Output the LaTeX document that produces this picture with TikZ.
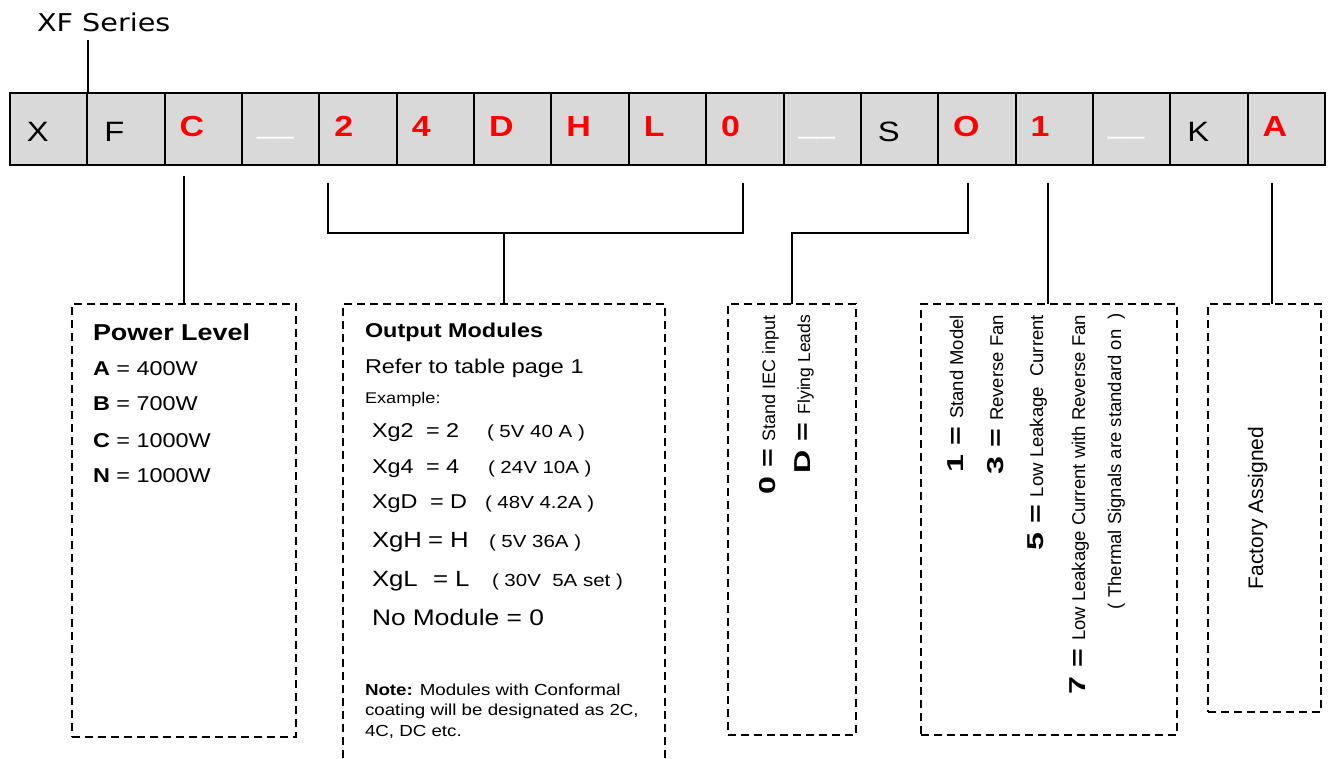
\documentclass[tikz,border=0pt]{standalone}
\usepackage{fontspec}
\setmainfont{Liberation Sans}
\newfontfamily\hf{Liberation Sans}[FakeStretch=1.17]
\newfontfamily\bw{Liberation Sans}[FakeStretch=1.4]
\newfontfamily\tf{DejaVu Sans}[FakeStretch=1.17]
\newcommand\fsz[1]{\fontsize{#1}{#1}\selectfont}
\newcommand\labf{\bw\bfseries\fsz{23}}
\definecolor{cellgray}{HTML}{D9D9D9}
\begin{document}
\begin{tikzpicture}[x=1pt,y=-1pt,
  every node/.style={inner sep=0pt,outer sep=0pt},
  cell/.style={draw=black,line width=2pt,fill=cellgray,minimum width=77.35pt,minimum height=72pt},
  conn/.style={line width=1.5pt,draw=black},
  dbox/.style={draw=black,line width=1.5pt,dash pattern=on 8pt off 5pt},
  blk/.style={anchor=base west,font=\hf\fsz{28}},
  rd/.style={anchor=base west,text=red,font=\hf\bfseries\fsz{29}},
  ul/.style={anchor=base west,text=white,font=\hf\fsz{28}},
  txt/.style={anchor=base west},
  vt/.style={rotate=90,anchor=base east}]
\useasboundingbox (0,0) rectangle (1328,758);
% title
\node[anchor=base west,font=\tf\fsz{24.5}] (title) at (37,31) {XF Series};
% cells
\foreach \i in {0,...,16} {
  \node[cell] (c\i) at ({10+77.35*\i+38.675},128.5) {};
}
\foreach \i/\t in {0/X,1/F,11/S,15/K} {
  \node[blk] (l\i) at ({10+77.35*\i+17},141) {\t};
}
\foreach \i/\t in {2/C,4/2,5/4,6/D,7/H,8/L,9/0,12/O,13/1,16/A} {
  \node[rd] (l\i) at ({10+77.35*\i+15},136) {\t};
}
\foreach \i in {3,10,14} {
  \node[ul] (l\i) at ({10+77.35*\i+15},133.5) {\_\_};
}
% boxes
\node[dbox,minimum width=224pt,minimum height=433pt] (pl) at (184,520.5) {};
\node[minimum width=322pt,minimum height=454pt] (om) at (504,531) {};
\draw[dbox] (om.south west) |- (om.north east) -- (om.south east);
\node[dbox,minimum width=128pt,minimum height=431pt] (b3) at (792,519.5) {};
\node[dbox,minimum width=256pt,minimum height=431pt] (b4) at (1049,519.5) {};
\node[dbox,minimum width=113pt,minimum height=408pt] (b5) at (1264.5,508) {};
% connectors
\coordinate (tX) at (88,40);
\draw[conn] (tX) -- (tX |- c1.north);
\coordinate (tC) at (184,176);
\draw[conn] (tC) -- (pl.north);
\coordinate (bL) at (328,183);
\coordinate (bR) at (743,183);
\draw[conn] (bL) -- (328,233) -- (743,233) -- (bR);
\draw[conn] (om.north |- 0,233) -- (om.north);
\coordinate (tO) at (968,183);
\draw[conn] (tO) -- (968,233) -| (b3.north);
\coordinate (t1) at (1048,183);
\draw[conn] (t1) -- (t1 |- b4.north);
\coordinate (tA) at (1272,183);
\draw[conn] (tA) -- (tA |- b5.north);
% Power level
\node[txt,font=\hf\bfseries\fsz{23}] (p0) at (93,340) {Power Level};
\node[txt,font=\hf\fsz{20}] (p1) at (93,375) {\textbf{A} = 400W};
\node[txt,font=\hf\fsz{20}] (p2) at (93,410) {\textbf{B} = 700W};
\node[txt,font=\hf\fsz{20}] (p3) at (93,447) {\textbf{C} = 1000W};
\node[txt,font=\hf\fsz{20}] (p4) at (93,482) {\textbf{N} = 1000W};
% Output modules
\node[txt,font=\hf\bfseries\fsz{20}] (o0) at (365,337) {Output Modules};
\node[txt,font=\hf\fsz{20}] (o1) at (365,373) {Refer to table page 1};
\node[txt,font=\hf\fsz{15.5}] (o2) at (365,403) {Example:};
\node[txt,font=\hf\fsz{20}] (r1a) at (372,437) {Xg2};
\node[txt,font=\hf\fsz{20}] (r1b) at (426,437) {= 2};
\node[txt,font=\hf\fsz{17.5}] (r1c) at (487,437) {( 5V 40 A )};
\node[txt,font=\hf\fsz{20}] (r2a) at (372,473) {Xg4};
\node[txt,font=\hf\fsz{20}] (r2b) at (426,473) {= 4};
\node[txt,font=\hf\fsz{17.5}] (r2c) at (488,473) {( 24V 10A )};
\node[txt,font=\hf\fsz{20}] (r3a) at (372,508) {XgD};
\node[txt,font=\hf\fsz{20}] (r3b) at (430,508) {= D};
\node[txt,font=\hf\fsz{17.5}] (r3c) at (485,508) {( 48V 4.2A )};
\node[txt,font=\hf\fsz{22}] (r4a) at (372,547) {XgH};
\node[txt,font=\hf\fsz{22}] (r4b) at (428,547) {= H};
\node[txt,font=\hf\fsz{17.5}] (r4c) at (489,547) {( 5V 36A )};
\node[txt,font=\hf\fsz{22}] (r5a) at (372,586) {XgL};
\node[txt,font=\hf\fsz{22}] (r5b) at (433,586) {= L};
\node[txt,font=\hf\fsz{17.5}] (r5c) at (492,586) {( 30V\ \ 5A set )};
\node[txt,font=\hf\fsz{22.5}] (r6) at (372,625) {No Module = 0};
\node[txt,font=\hf\fsz{16}] (n1) at (365,695) {\textbf{Note:} Modules with Conformal};
\node[txt,font=\hf\fsz{16}] (n2) at (365,715) {coating will be designated as 2C,};
\node[txt,font=\hf\fsz{16}] (n3) at (365,736) {4C, DC etc.};
% box 3
\node[vt] (v1) at (775,315) {{\labf 0 =}\hspace{8pt}\fsz{18}Stand IEC input};
\node[vt] (v2) at (810,315) {{\labf D =}\hspace{8pt}\fsz{17.5}Flying Leads};
% box 4
\node[vt] (w1) at (963,315) {{\labf 1 =}\hspace{8pt}\fsz{18.5}Stand Model};
\node[vt] (w2) at (1003,315) {{\labf 3 =}\hspace{8pt}\fsz{18.5}Reverse Fan};
\node[vt] (w3) at (1043,315) {{\labf 5 =}\hspace{8pt}\fsz{18.5}Low Leakage\ \ Current};
\node[vt] (w4) at (1085,315) {{\labf 7 =}\hspace{8pt}\fsz{18.5}Low Leakage Current with Reverse Fan};
\node[vt] (w5) at (1121,313) {\fsz{18.5}( Thermal Signals are standard on\ \ )};
% box 5
\node[rotate=90,anchor=base,font=\fsz{21}] (fa) at (1263,508) {Factory Assigned};
\end{tikzpicture}
\end{document}
